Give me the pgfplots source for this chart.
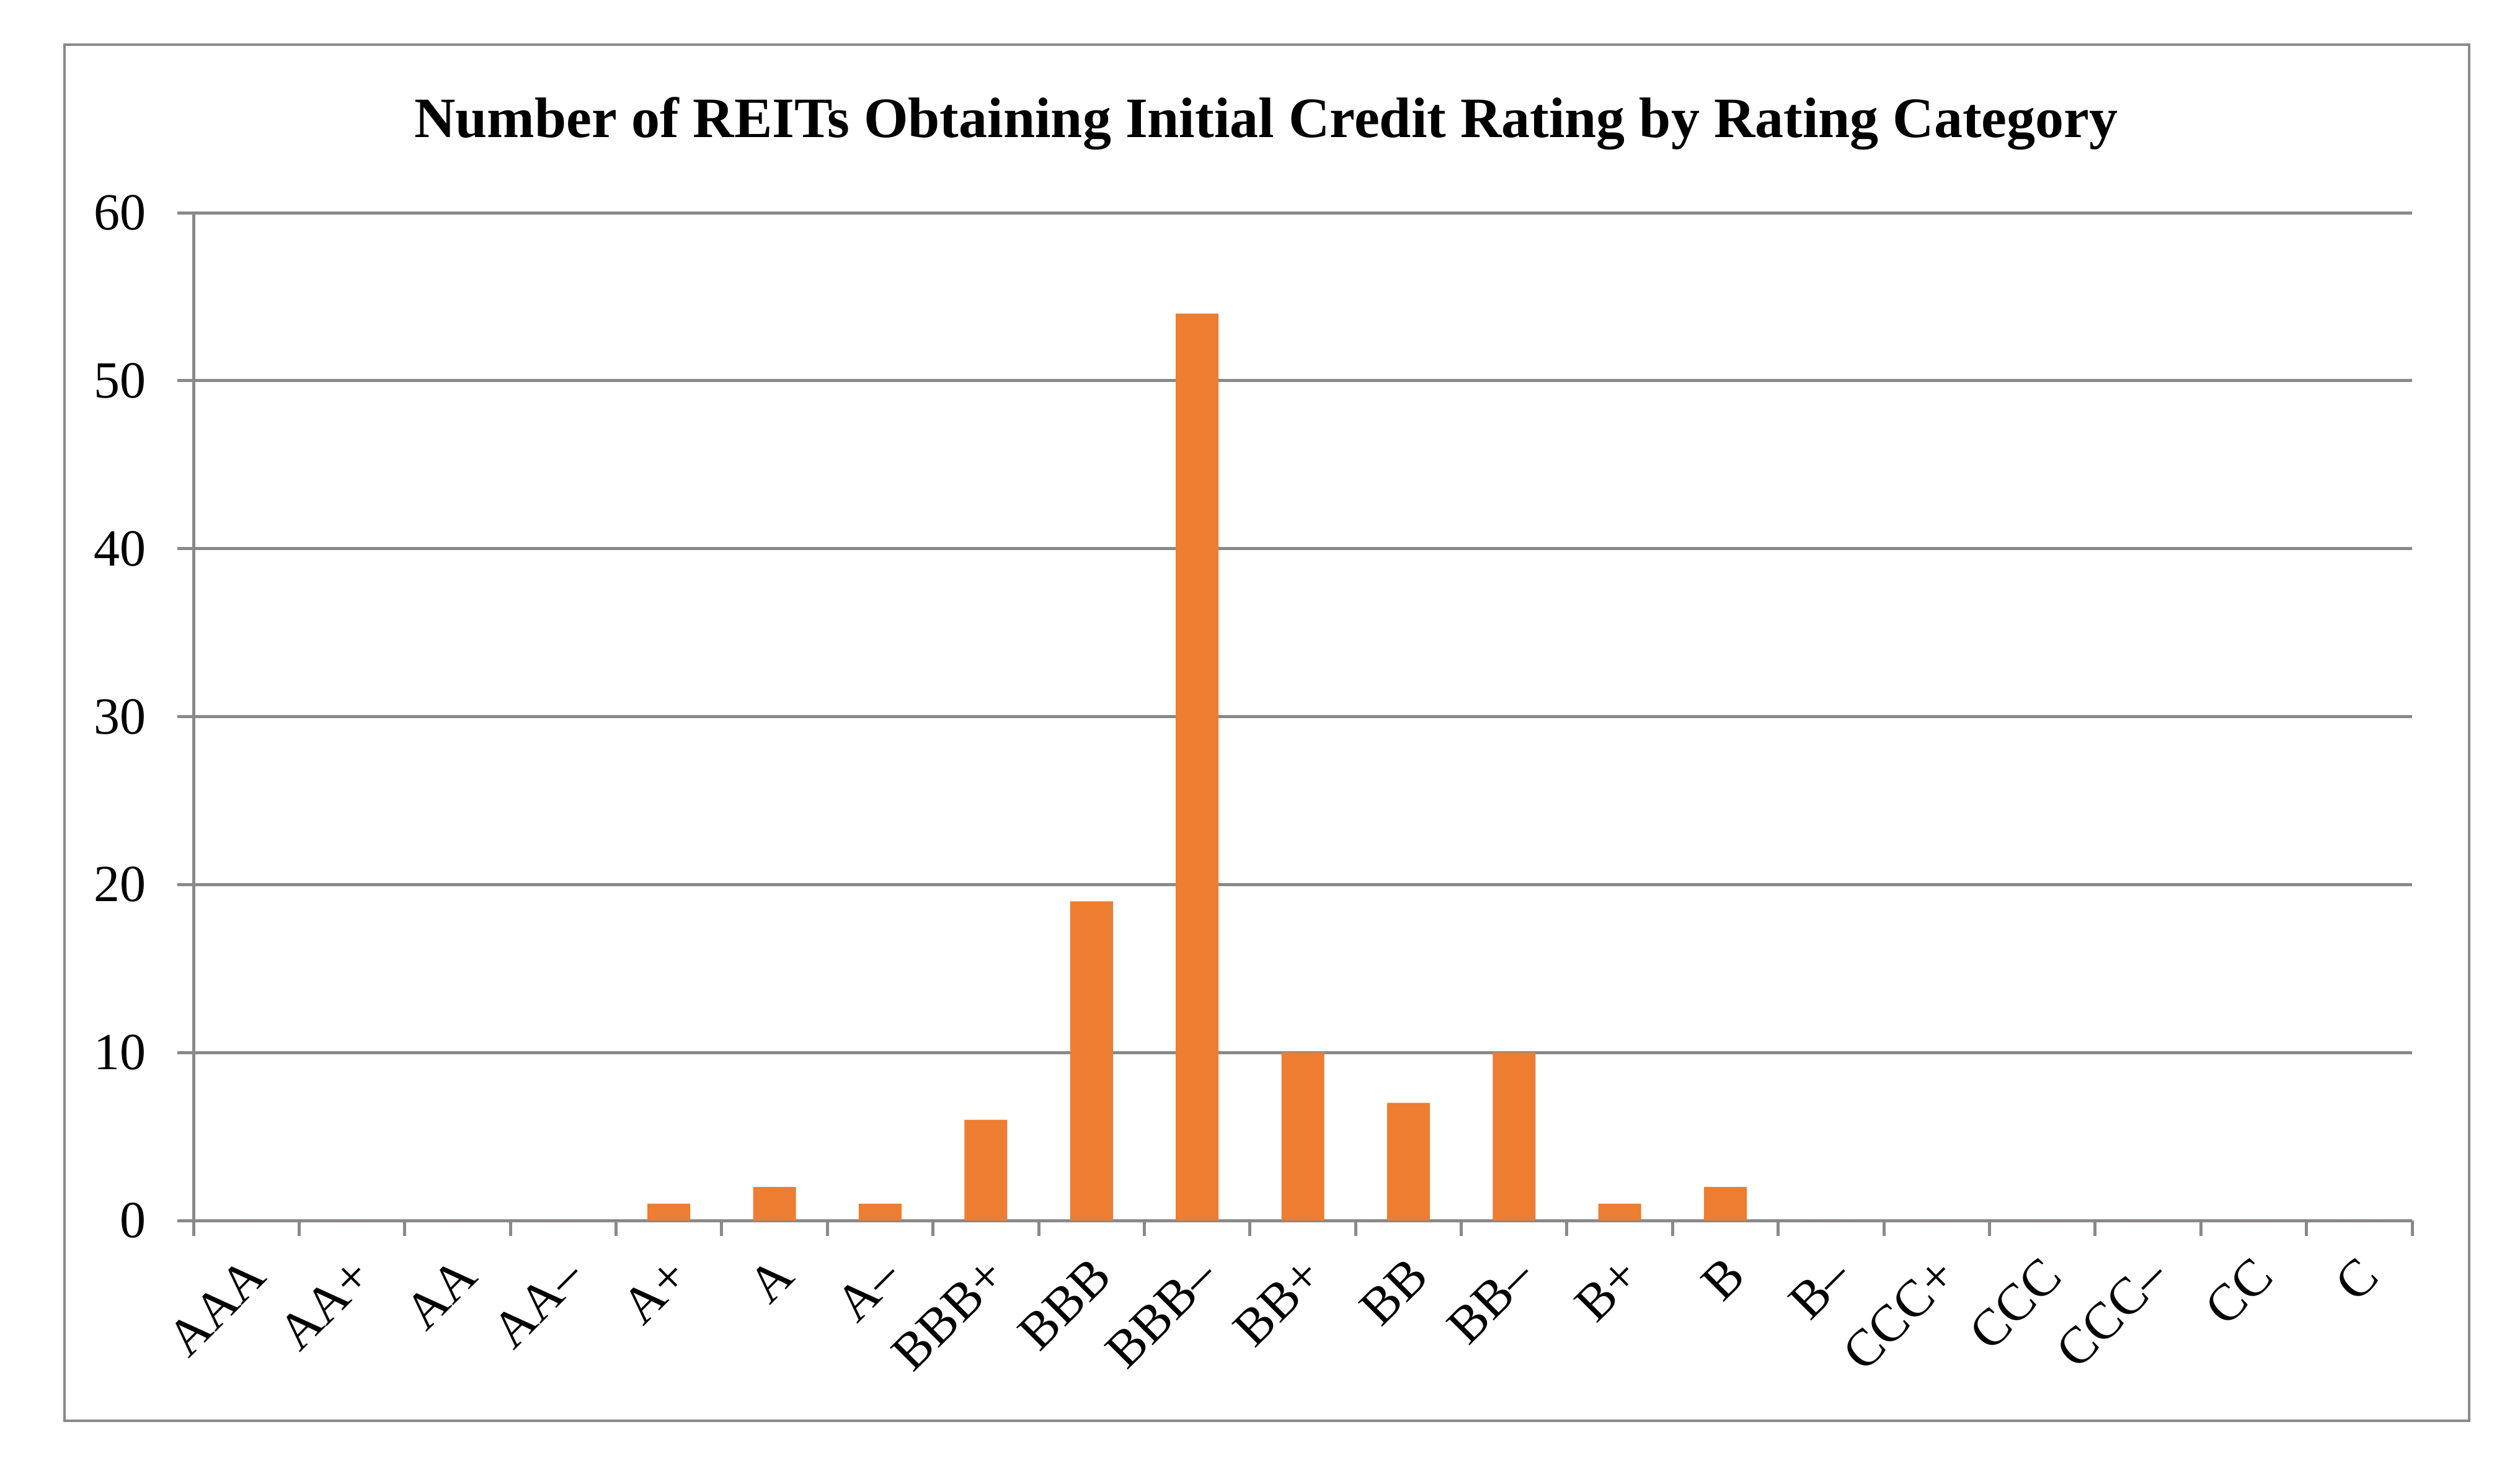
\documentclass[border=0pt]{standalone}
\usepackage{fontspec}
\setmainfont{Liberation Serif}
\usepackage{pgfplots}
\pgfplotsset{compat=1.18}
\definecolor{barorange}{RGB}{237,125,49}
\definecolor{gridgray}{RGB}{137,137,137}
\begin{document}
\begin{tikzpicture}
% page and chart frame (10 px of the reference = 1pt)
\path[use as bounding box] (-31.2pt,-38.3pt) rectangle (375.2pt,196.8pt);
\draw[gridgray, line width=0.35pt] (-20.8pt,-32.3pt) rectangle (367.0pt,189.6pt);
\node[anchor=base, font=\fontsize{9.2}{10}\selectfont\bfseries] at (173.0pt,174.6pt)
  {Number of REITs Obtaining Initial Credit Rating by Rating Category};
\begin{axis}[
    at={(0,0)}, anchor=south west,
    scale only axis, width=357.8pt, height=162.5pt,
    ybar, bar width=0.405,
    xmin=-0.5, xmax=20.5, ymin=0, ymax=60,
    xtick={0,...,20},
    xticklabels={AAA,AA+,AA,AA–,A+,A,A–,BBB+,BBB,BBB–,BB+,BB,BB–,B+,B,B–,CCC+,CCC,CCC–,CC,C},
    minor xtick={-0.5,0.5,...,20.5},
    ytick={0,10,...,60},
    ymajorgrids, major grid style={gridgray, line width=0.5pt},
    axis x line*=bottom, axis y line*=left,
    axis line style={gridgray, line width=0.5pt, -},
    tick style={gridgray, line width=0.5pt},
    major x tick style={draw=none},
    tick align=outside,
    major tick length=2.6pt, minor tick length=2.5pt,
    tick label style={font=\fontsize{8.4}{9}\selectfont, black},
    /pgf/number format/assume math mode=true,
    x tick label style={rotate=45, anchor=east, xshift=1.2pt, yshift=-4.6pt},
    y tick label style={xshift=-1.5pt},
]
\addplot[fill=barorange, draw=none] coordinates {
(0,0) (1,0) (2,0) (3,0) (4,1) (5,2) (6,1) (7,6) (8,19) (9,54) (10,10)
(11,7) (12,10) (13,1) (14,2) (15,0) (16,0) (17,0) (18,0) (19,0) (20,0)
};
\end{axis}
\end{tikzpicture}
\end{document}
